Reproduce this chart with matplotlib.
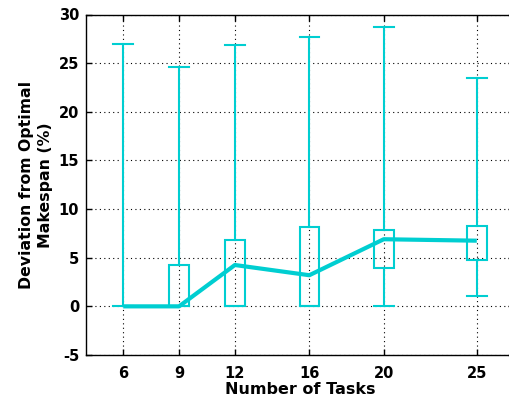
import matplotlib
matplotlib.use("Agg")
import matplotlib.pyplot as plt
from matplotlib.patches import Rectangle

plt.rcParams['font.family'] = ['DejaVu Sans']
plt.rcParams['axes.unicode_minus'] = False

tasks = [6, 9, 12, 16, 20, 25]
whisker_low = [0.0, 0.0, 0.0, 0.0, 0.0, 1.05]
box_low = [0.0, 0.0, 0.0, 0.0, 3.9, 4.8]
box_high = [0.0, 4.3, 6.8, 8.2, 7.9, 8.3]
whisker_high = [27.0, 24.6, 26.9, 27.7, 28.75, 23.5]
median = [0.0, 0.0, 4.25, 3.2, 6.9, 6.75]
y_ticks = [-5, 0, 5, 10, 15, 20, 25, 30]

color = '#00CED1'
width = 1.05

fig = plt.figure(figsize=(5.10, 4.03), dpi=100)
ax = fig.add_axes([86/510, 48/403, 428/510, 340.5/403])

for x, wl, bl, bh, wh in zip(tasks, whisker_low, box_low, box_high, whisker_high):
    ax.plot([x, x], [wl, bl], color=color, lw=1.5, zorder=3)
    ax.plot([x, x], [bh, wh], color=color, lw=1.5, zorder=3)
    ax.plot([x - width/2, x + width/2], [wh, wh], color=color, lw=1.5, zorder=3)
    ax.plot([x - width/2, x + width/2], [wl, wl], color=color, lw=1.5, zorder=3)
    if bh > bl:
        ax.add_patch(Rectangle((x - width/2, bl), width, bh - bl, fill=False,
                               edgecolor=color, lw=1.5, zorder=3))

ax.plot(tasks, median, color=color, lw=3.0, zorder=4, solid_capstyle='butt')

ax.set_xlim(4, 27)
ax.set_ylim(-5, 30)
ax.set_xticks(tasks)
ax.set_yticks(y_ticks)
ax.tick_params(direction='in', top=True, right=True, length=4, width=1,
               labelsize=10.5)
ax.tick_params(axis='x', pad=8)
ax.tick_params(axis='y', pad=5)
for lab in ax.get_xticklabels() + ax.get_yticklabels():
    lab.set_fontweight('bold')
ax.grid(True, color='black', linestyle=(0, (1, 3)), linewidth=0.8, zorder=1)
for s in ax.spines.values():
    s.set_linewidth(1.0)

ax.set_xlabel('Number of Tasks', fontsize=11.5, fontweight='bold', labelpad=1)
ax.set_ylabel('Deviation from Optimal\nMakespan (%)', fontsize=11.3,
              fontweight='bold', linespacing=1.35)
ax.yaxis.set_label_coords(-33/428, 0.5)

fig.savefig('out.png', dpi=100)
